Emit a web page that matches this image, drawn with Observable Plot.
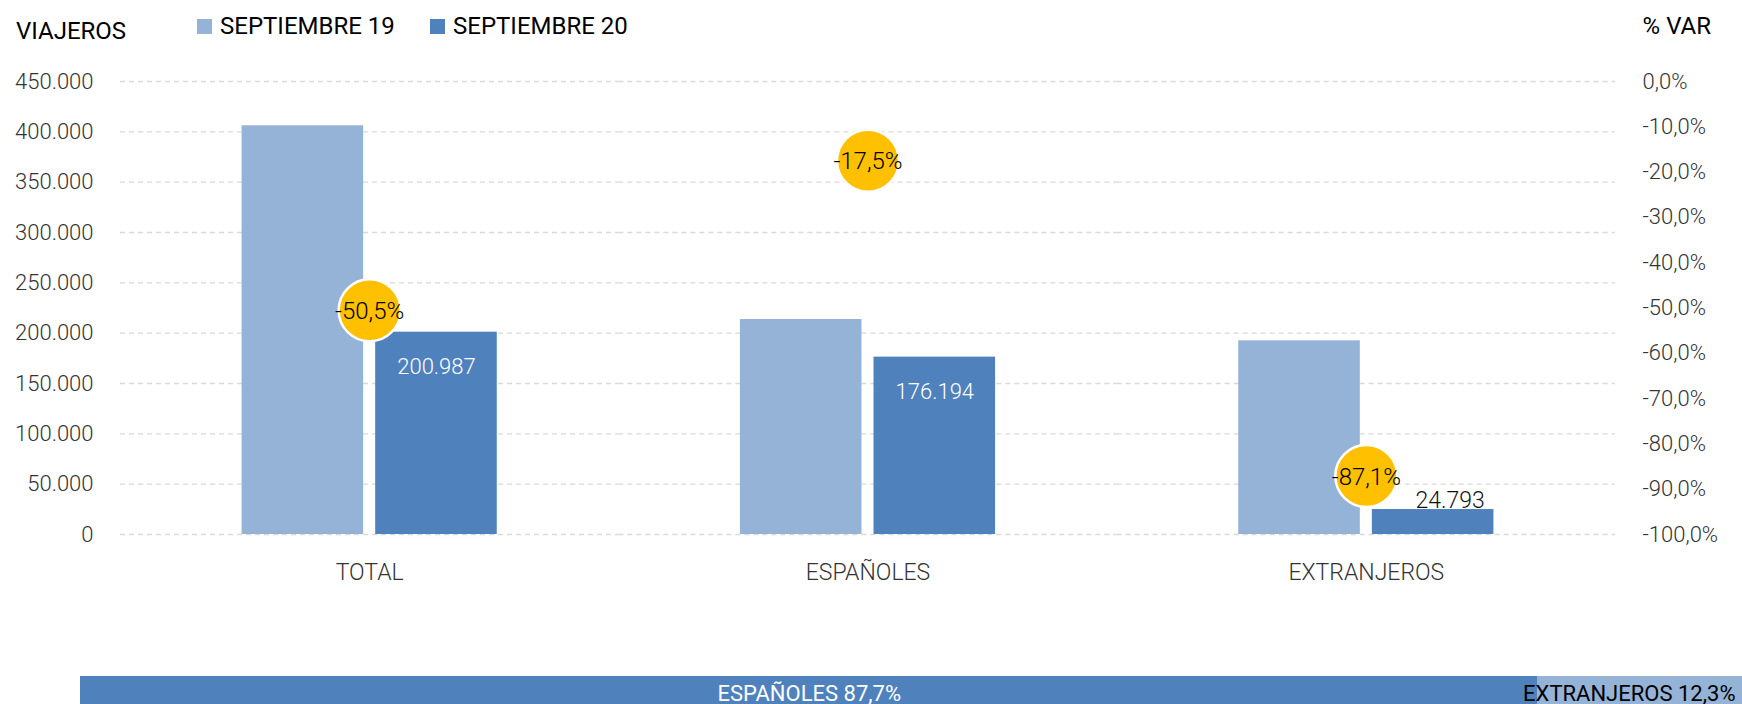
<!DOCTYPE html>
<html>
<head>
<meta charset="utf-8">
<script src="https://cdn.jsdelivr.net/npm/d3@7"></script>
<script src="https://cdn.jsdelivr.net/npm/@observablehq/plot@0.6"></script>
<style>
  html, body { margin: 0; padding: 0; background: #fff; overflow: hidden; }
  #wrap { position: relative; width: 1742px; height: 704px; font-family: Roboto, "Noto Sans", sans-serif; }
  .abs { position: absolute; white-space: nowrap; line-height: 24px; font-size: 24px; color: #000; }
  .sw { position: absolute; width: 15px; height: 15px; }
  #main, #share { position: absolute; left: 0; }
  #main { top: 0; }
  #share { top: 676px; }
</style>
</head>
<body>
<div id="wrap">
  <div id="main"></div>
  <div id="share"></div>
  <div class="abs" style="left:16px;top:19px;">VIAJEROS</div>
  <div class="abs" style="right:31px;top:14px;">% VAR</div>
  <div class="sw" style="left:197px;top:19px;background:#95B3D7"></div>
  <div class="abs" style="left:220px;top:14px;">SEPTIEMBRE 19</div>
  <div class="sw" style="left:430px;top:19px;background:#4F81BD"></div>
  <div class="abs" style="left:453px;top:14px;">SEPTIEMBRE 20</div>
</div>
<script>
// ---- data ----
const categories = ["TOTAL", "ESPAÑOLES", "EXTRANJEROS"];
const seriesNames = ["SEPTIEMBRE 19", "SEPTIEMBRE 20"];
const sep19 = [406000, 213600, 192400];
const sep20 = [200987, 176194, 24793];
const variation = [-50.5, -17.5, -87.1];
const shareNames = ["ESPAÑOLES", "EXTRANJEROS"];
const shareValues = [87.7, 12.3];
const yTicks = [0, 50000, 100000, 150000, 200000, 250000, 300000, 350000, 400000, 450000];
const varTicks = [0, -10, -20, -30, -40, -50, -60, -70, -80, -90, -100];

// ---- formatting ----
const loc = d3.formatLocale({decimal: ",", thousands: ".", grouping: [3], currency: ["", "€"], minus: "-"});
const fmtInt = loc.format(",d");
const fmtPct1 = loc.format(".1f");
const yMax = 450000;
const pctToY = p => yMax * (1 + p / 100);

const rows = categories.flatMap((c, i) => [
  {cat: c, series: seriesNames[0], value: sep19[i]},
  {cat: c, series: seriesNames[1], value: sep20[i]}
]);
const varRows = categories.map((c, i) => ({cat: c, pct: variation[i]}));
const labelRows = rows.filter(d => d.series === seriesNames[1]);

const main = Plot.plot({
  width: 1742,
  height: 704,
  marginTop: 81,
  marginBottom: 170,
  marginLeft: 120,
  marginRight: 127,
  style: {fontFamily: "Roboto, 'Noto Sans', sans-serif", background: "transparent", color: "#333"},
  fx: {domain: categories, padding: 0, round: false},
  x: {domain: seriesNames, paddingInner: 0.09, paddingOuter: 0.91, round: false, axis: null},
  y: {domain: [0, yMax]},
  color: {domain: seriesNames, range: ["#95B3D7", "#4F81BD"]},
  marks: [
    Plot.ruleY(yTicks, {stroke: "#d9d9d9", strokeWidth: 1.3, strokeDasharray: "5,4"}),
    Plot.barY(rows, {fx: "cat", x: "series", y: "value", fill: "series"}),
    Plot.text(labelRows.filter(d => d.value >= 50000), {
      fx: "cat", x: "series", y: "value", text: d => fmtInt(d.value),
      fill: "white", fontSize: 22, fontWeight: 300, lineAnchor: "middle", dy: 35
    }),
    Plot.text(labelRows.filter(d => d.value < 50000), {
      fx: "cat", x: "series", y: "value", text: d => fmtInt(d.value),
      fill: "#111", fontSize: 23, fontWeight: 300, lineAnchor: "middle", dy: -9, dx: 17
    }),
    Plot.dot(varRows, {fx: "cat", y: d => pctToY(d.pct), r: 31, fill: "#FFC000", stroke: "white", strokeWidth: 2.5}),
    Plot.text(varRows, {
      fx: "cat", y: d => pctToY(d.pct), text: d => fmtPct1(d.pct) + "%",
      fill: "#000", fontSize: 24, fontWeight: 300, lineAnchor: "middle", dy: 1
    }),
    Plot.axisY({anchor: "left", ticks: yTicks, tickFormat: fmtInt, tickSize: 0, tickPadding: 27, fontSize: 22, fontWeight: 300, label: null}),
    Plot.axisY({anchor: "right", ticks: varTicks.map(pctToY),
      tickFormat: d => fmtPct1(Math.round((d / yMax * 100 - 100) * 10) / 10 + 0) + "%",
      tickSize: 0, tickPadding: 27, fontSize: 22, fontWeight: 300, label: null}),
    Plot.axisFx({anchor: "bottom", tickSize: 0, tickPadding: 29, fontSize: 23, fontWeight: 300, label: null})
  ]
});
document.getElementById("main").appendChild(main);

// cumulative start/end of the share bar segments
let acc = 0;
const shareRows = shareNames.map((n, i) => {
  const start = acc;
  acc += shareValues[i];
  return {name: n, share: shareValues[i], start, end: acc};
});
const shareText = d => d.name + " " + fmtPct1(d.share) + "%";
const share = Plot.plot({
  width: 1742,
  height: 28,
  marginTop: 0,
  marginBottom: 0,
  marginLeft: 80,
  marginRight: 0,
  style: {fontFamily: "Roboto, 'Noto Sans', sans-serif", background: "transparent"},
  x: {domain: [0, 100], axis: null},
  color: {domain: shareNames, range: ["#4F81BD", "#95B3D7"]},
  marks: [
    Plot.barX(shareRows, {x1: "start", x2: "end", fill: "name"}),
    Plot.text(shareRows.slice(0, 1), {
      x: d => (d.start + d.end) / 2, text: shareText,
      fill: "white", fontSize: 22, fontWeight: 400, frameAnchor: "top", lineAnchor: "bottom", dy: 24
    }),
    Plot.text(shareRows.slice(1), {
      x: "end", text: shareText, textAnchor: "end",
      fill: "black", fontSize: 22, fontWeight: 400, frameAnchor: "top", lineAnchor: "bottom", dy: 24, dx: -7
    })
  ]
});
document.getElementById("share").appendChild(share);
</script>
</body>
</html>
